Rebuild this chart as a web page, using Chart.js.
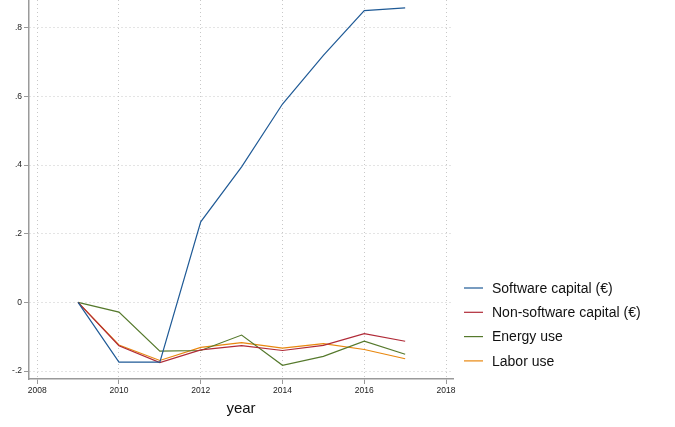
<!DOCTYPE html>
<html>
<head>
<meta charset="utf-8">
<script src="https://cdn.jsdelivr.net/npm/chart.js@4/dist/chart.umd.min.js"></script>
<style>
  html, body { margin: 0; padding: 0; background: #fff; }
  #wrap { width: 675px; height: 427px; }
</style>
</head>
<body>
<div id="wrap"><canvas id="chart" width="675" height="427"></canvas></div>
<script>
const years = [2009, 2010, 2011, 2012, 2013, 2014, 2015, 2016, 2017];
const software = [0, -0.174, -0.174, 0.235, 0.395, 0.578, 0.72, 0.85, 0.858];
const nonSoftware = [0, -0.126, -0.175, -0.138, -0.126, -0.140, -0.125, -0.091, -0.113];
const energy = [0, -0.028, -0.142, -0.140, -0.095, -0.183, -0.157, -0.113, -0.151];
const labor = [0, -0.124, -0.169, -0.131, -0.117, -0.133, -0.120, -0.137, -0.164];

const seriesNames = ['Software capital (€)', 'Non-software capital (€)', 'Energy use', 'Labor use'];
const seriesColors = ['#1f5a96', '#b02a37', '#55792c', '#e8870e'];

const xTicks = [2008, 2010, 2012, 2014, 2016, 2018];
const yTicks = [-0.2, 0, 0.2, 0.4, 0.6, 0.8];
const yTickLabels = ['-.2', '0', '.2', '.4', '.6', '.8'];

const toPoints = vals => vals.map((v, i) => ({ x: years[i], y: v }));
const allSeries = [software, nonSoftware, energy, labor];

// draws the Stata-like legend to the right of the plot
const sideLegend = {
  id: 'sideLegend',
  afterDraw(chart) {
    const ctx = chart.ctx;
    ctx.save();
    ctx.font = '14px "Liberation Sans", Arial, sans-serif';
    ctx.textBaseline = 'middle';
    ctx.fillStyle = '#111';
    chart.data.datasets.forEach((ds, i) => {
      const y = 288 + i * 24.3;
      ctx.strokeStyle = ds.borderColor;
      ctx.lineWidth = 1.2;
      ctx.beginPath();
      ctx.moveTo(464, y);
      ctx.lineTo(483, y);
      ctx.stroke();
      ctx.fillText(ds.label, 492, y + 1);
    });
    ctx.restore();
  }
};

const ctx = document.getElementById('chart').getContext('2d');
new Chart(ctx, {
  type: 'line',
  data: {
    datasets: allSeries.map((vals, i) => ({
      label: seriesNames[i],
      data: toPoints(vals),
      borderColor: seriesColors[i],
      borderWidth: 1.2,
      pointRadius: 0,
      tension: 0,
      fill: false
    }))
  },
  plugins: [sideLegend],
  options: {
    responsive: false,
    animation: false,
    layout: { autoPadding: false, padding: { left: 0, right: 222, top: 0, bottom: 0 } },
    plugins: {
      legend: { display: false },
      tooltip: { enabled: false }
    },
    scales: {
      x: {
        type: 'linear',
        min: 2007.8,
        max: 2018.17,
        afterBuildTicks: s => { s.ticks = xTicks.map(v => ({ value: v })); },
        afterFit: s => { s.height = 48; s.paddingLeft = 0; s.paddingRight = 0; },
        ticks: {
          font: { family: '"Liberation Sans", Arial, sans-serif', size: 8.5 },
          color: '#222',
          padding: 2,
          maxRotation: 0,
          callback: v => String(v)
        },
        grid: {
          color: '#c8c8c8',
          lineWidth: 1,
          tickLength: 5,
          tickColor: '#999',
          tickWidth: 1
        },
        border: { color: '#9a9a9a', width: 1.5, dash: [1, 3] },
        title: {
          display: true,
          text: 'year',
          font: { family: '"Liberation Sans", Arial, sans-serif', size: 15 },
          color: '#111',
          padding: { top: 0, bottom: 9 }
        }
      },
      y: {
        min: -0.223,
        max: 0.881,
        afterBuildTicks: s => { s.ticks = yTicks.map(v => ({ value: v })); },
        afterFit: s => { s.width = 29; s.paddingTop = 0; s.paddingBottom = 0; },
        ticks: {
          font: { family: '"Liberation Sans", Arial, sans-serif', size: 8.5 },
          color: '#222',
          padding: 2,
          callback: (v, i) => yTickLabels[i]
        },
        grid: {
          color: '#c8c8c8',
          lineWidth: 1,
          tickLength: 5,
          tickColor: '#999',
          tickWidth: 1
        },
        border: { color: '#9a9a9a', width: 1.5, dash: [1, 3] }
      }
    }
  }
});
</script>
</body>
</html>
